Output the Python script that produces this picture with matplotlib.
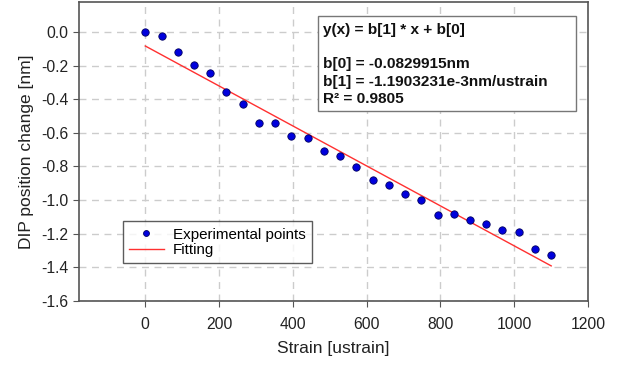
import matplotlib
matplotlib.use("Agg")
import matplotlib.pyplot as plt
from matplotlib.patches import Rectangle
import numpy as np

plt.rcParams['font.family'] = ['Liberation Sans', 'DejaVu Sans']

strain = [0, 44, 88, 132, 176, 220, 264, 308, 352, 396, 440, 484, 528,
          572, 616, 660, 704, 748, 792, 836, 880, 924, 968, 1012, 1056, 1100]
dip_change = [0.0, -0.026, -0.119, -0.198, -0.246, -0.357, -0.429, -0.542, -0.542,
              -0.621, -0.631, -0.711, -0.740, -0.802, -0.881, -0.911, -0.962, -1.0,
              -1.092, -1.082, -1.121, -1.143, -1.181, -1.190, -1.292, -1.330]
b0 = -0.0829915
b1 = -1.1903231e-3
fit_x = [0, 1100]

xticks = [0, 200, 400, 600, 800, 1000, 1200]
yticks = [0.0, -0.2, -0.4, -0.6, -0.8, -1.0, -1.2, -1.4, -1.6]

fig = plt.figure(figsize=(6.21, 3.65), dpi=100)
ax = fig.add_axes([0.127, 0.176, 0.820, 0.819])

fx = np.array(fit_x, dtype=float)
ax.plot(strain, dip_change, 'o', color='#0000dd', markeredgecolor='#000060',
        markeredgewidth=0.6, markersize=5.3, label='Experimental points', zorder=3)
ax.plot(fx, b1 * fx + b0, '-', color='#ff3030', lw=1.0, label='Fitting', zorder=2)

ax.set_xlim(-180, 1200)
ax.set_ylim(-1.6, 0.18)
ax.set_xticks(xticks)
ax.set_yticks(yticks)
ax.set_yticklabels([f"{v:.1f}" for v in yticks])
ax.grid(True, color='#cccccc', linestyle=(0, (5, 4)), lw=1.0)
ax.set_axisbelow(True)
for s in ax.spines.values():
    s.set_color('#555555')
    s.set_linewidth(1.2)
ax.tick_params(direction='out', length=4, color='#555555', labelsize=11.3, colors='#222222')
ax.tick_params(axis='x', pad=8)
ax.set_xlabel('Strain [ustrain]', fontsize=12.5, color='#222222', labelpad=6)
ax.set_ylabel('DIP position change [nm]', fontsize=12.5, color='#222222', labelpad=5)

leg = ax.legend(loc='lower left', bbox_to_anchor=(0.0864, 0.125), fontsize=10.9,
                frameon=True, fancybox=False, borderpad=0.4, handlelength=2.3,
                handletextpad=0.6, labelspacing=0.12, borderaxespad=0,
                markerscale=0.8)
leg.get_frame().set_edgecolor('#333333')
leg.get_frame().set_linewidth(1.0)

ax.add_patch(Rectangle((0.4695, 0.635), 0.5065, 0.318, transform=ax.transAxes,
                       fc='white', ec='#777777', lw=1.0, zorder=4))
txt = ("y(x) = b[1] * x + b[0]\n\n"
       "b[0] = -0.0829915nm\n"
       "b[1] = -1.1903231e-3nm/ustrain\n"
       "R\u00b2 = 0.9805")
ax.text(0.479, 0.93, txt, transform=ax.transAxes, ha='left', va='top',
        fontsize=11.1, fontweight='bold', color='#111111', linespacing=1.3, zorder=5)

fig.savefig('out.png', dpi=100)
